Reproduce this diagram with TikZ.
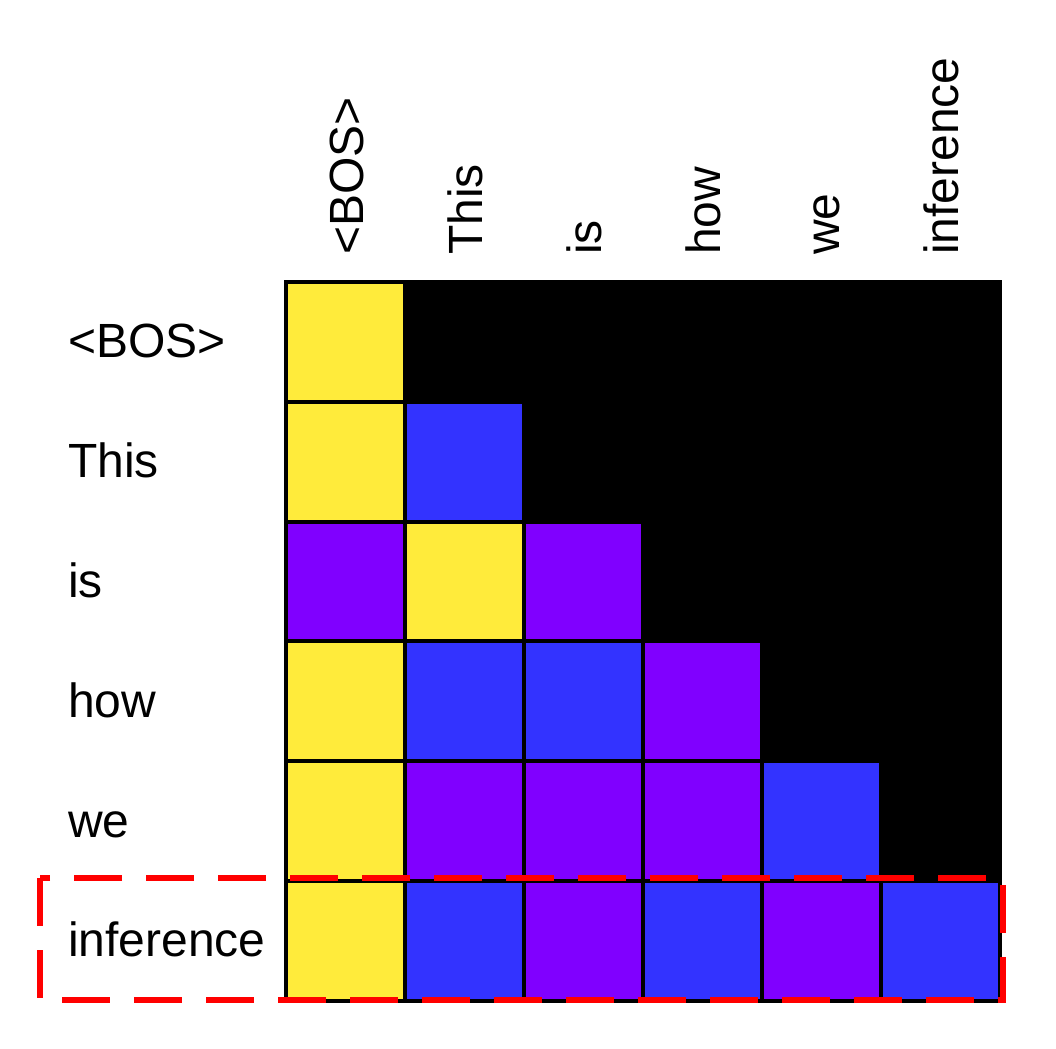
\documentclass[tikz,border=0pt]{standalone}
\usepackage{fontspec}
\setmainfont{Liberation Sans}
\usepackage{tikz}
\definecolor{tokY}{HTML}{FFEB3B}
\definecolor{tokB}{HTML}{3333FF}
\definecolor{tokP}{HTML}{8000FF}
\tikzstyle{cell} = [draw=black, line width=4pt, inner sep=0pt, outer sep=0pt,
  minimum width=119.1pt, minimum height=119.8pt]
\tikzstyle{tok} = [inner sep=0pt, font=\fontsize{48}{56}\selectfont]

\begin{document}
\begin{tikzpicture}[x=1pt,y=-1pt]
\useasboundingbox (0,0) rectangle (1056,1048);

% masked part of the grid
\fill[black] (283.5,280) rectangle (1002.1,1003);

% attention cells, row by row
\foreach \r/\row in {1/{tokY}, 2/{tokY,tokB}, 3/{tokP,tokY,tokP},
  4/{tokY,tokB,tokB,tokP}, 5/{tokY,tokP,tokP,tokP,tokB},
  6/{tokY,tokB,tokP,tokB,tokP,tokB}}{
  \foreach \col [count=\c] in \row
    \node[cell, fill=\col] (cell-\r-\c) at ({285.5+119.1*(\c-0.5)},{282+119.8*(\r-0.5)}) {};
}

% token labels
\foreach \t [count=\i] in {<BOS>,This,is,how,we,inference}{
  \node[tok, anchor=base west] (row-\i) at (68,{282+119.8*(\i-0.5)+16}) {\t};
  \node[tok, rotate=90, anchor=base west] (col-\i) at ({285.5+119.1*(\i-0.5)+18},255) {\t};
}

% current query row
\draw[red, line width=5.5pt, dash pattern=on 48pt off 24pt] (40,878) rectangle (1003,1000);

\end{tikzpicture}
\end{document}
